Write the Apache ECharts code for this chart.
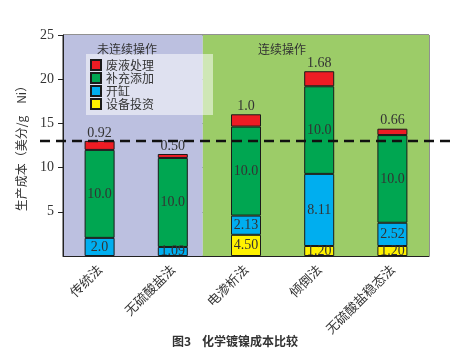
<!DOCTYPE html>
<html>
<head>
<meta charset="utf-8">
<script src="https://cdn.jsdelivr.net/npm/echarts@6/dist/echarts.min.js"></script>
<style>html,body{margin:0;padding:0;background:#fff;}#c{width:470px;height:362px;}</style>
</head>
<body>
<div id="c"></div>
<script>
// categories
const categories = ['传统法', '无硫酸盐法', '电渗析法', '倾倒法', '无硫酸盐稳态法'];
const equipment = [0, 0, 2.4, 1.13, 1.13];      // 设备投资
const makeup = [2.05, 1.02, 2.17, 8.16, 2.63];   // 开缸
const replenish = [9.95, 10.07, 10.07, 9.91, 9.92]; // 补充添加
const waste = [1.02, 0.45, 1.39, 1.7, 0.72];     // 废液处理
// printed labels
const equipmentLabels = ['', '', '4.50', '1.20', '1.20'];
const makeupLabels = ['2.0', '1.09', '2.13', '8.11', '2.52'];
const replenishLabels = ['10.0', '10.0', '10.0', '10.0', '10.0'];
const wasteLabels = ['0.92', '0.50', '1.0', '1.68', '0.66'];
// reference (dashed) level
const refLevel = 13;
// axis
const yTicks = [0, 5, 10, 15, 20, 25];
const regionSplit = 1.91; // boundary between regions, in category units
const regionTitles = ['未连续操作', '连续操作'];
const caption = '图3    化学镀镍成本比较';

const serif = '"Liberation Serif", "DejaVu Serif", serif';
const cjk = '"Noto Sans CJK SC", sans-serif';

const chart = echarts.init(document.getElementById('c'), null, {renderer: 'canvas'});

function mk(name, values, labels, color, pos) {
  return {
    name: name, type: 'bar', stack: 'total', barWidth: 30, z: 2,
    xAxisIndex: 0, yAxisIndex: 0,
    data: values.map(v => v === 0 ? '-' : v),
    itemStyle: {color: color, borderColor: '#1a1a1a', borderWidth: 1},
    label: {
      show: true, position: pos, distance: 1,
      formatter: p => labels[p.dataIndex],
      fontFamily: serif, fontSize: 14, color: '#333'
    },
    emphasis: {disabled: true}
  };
}

const option = {
  animation: false,
  backgroundColor: '#fff',
  grid: {left: 63, right: 41, top: 35, bottom: 106, show: true, borderColor: '#222', borderWidth: 1, backgroundColor: 'transparent'},
  legend: {
    data: ['废液处理', '补充添加', '开缸', '设备投资'],
    orient: 'vertical', left: 86, top: 54,
    padding: [5, 59, 5, 4],
    backgroundColor: 'rgba(255,255,255,0.52)',
    itemWidth: 10, itemHeight: 10, itemGap: 1,
    icon: 'rect',
    textStyle: {fontFamily: cjk, fontSize: 12, color: '#333', lineHeight: 12},
    selectedMode: false, z: 5
  },
  xAxis: [{
    type: 'category', data: categories,
    axisLine: {show: true, lineStyle: {color: '#222', width: 1}},
    axisTick: {show: false},
    axisLabel: {rotate: 45, margin: 11, fontFamily: cjk, fontSize: 13, color: '#333', interval: 0}
  }, {
    type: 'value', min: 0, max: 5, show: false
  }],
  yAxis: {
    type: 'value', min: yTicks[0], max: yTicks[yTicks.length - 1], interval: 5, z: 1,
    name: '生产成本（美分/g\u3000Ni）', nameLocation: 'middle', nameGap: 36,
    nameTextStyle: {fontFamily: cjk, fontSize: 12, color: '#333'},
    axisLine: {show: true, lineStyle: {color: '#222', width: 1}},
    axisTick: {show: true, inside: false, length: 5, lineStyle: {color: '#222'}},
    axisLabel: {showMinLabel: false, fontFamily: serif, fontSize: 14, color: '#333', margin: 9},
    splitLine: {show: true, lineStyle: {color: '#222', width: 1}}
  },
  series: [
    {
      type: 'line', xAxisIndex: 1, yAxisIndex: 0, z: 0, data: [],
      silent: true, showSymbol: false,
      markArea: {
        silent: true,
        data: [
          [{xAxis: 0, yAxis: yTicks[0], itemStyle: {color: '#bcc0e0'},
            label: {show: true, position: 'insideTop', offset: [-6, 3], formatter: regionTitles[0], fontFamily: cjk, fontSize: 12, color: '#333'}},
           {xAxis: regionSplit, yAxis: yTicks[yTicks.length - 1]}],
          [{xAxis: regionSplit, yAxis: yTicks[0], itemStyle: {color: '#9ccc68'},
            label: {show: true, position: 'insideTop', offset: [-34, 3], formatter: regionTitles[1], fontFamily: cjk, fontSize: 12, color: '#333'}},
           {xAxis: 5, yAxis: yTicks[yTicks.length - 1]}]
        ]
      }
    },
    mk('设备投资', equipment, equipmentLabels, '#fff200', 'inside'),
    mk('开缸', makeup, makeupLabels, '#00aeef', 'inside'),
    mk('补充添加', replenish, replenishLabels, '#00a651', 'inside'),
    mk('废液处理', waste, wasteLabels, '#ed1c24', 'top')
  ]
};
chart.setOption(option);

const yRef = chart.convertToPixel({yAxisIndex: 0}, refLevel);
chart.setOption({
  graphic: [
    {type: 'line', z: 10, shape: {x1: 40, y1: yRef, x2: 456, y2: yRef},
     style: {stroke: '#111', lineWidth: 2.5, lineDash: [10, 6]}},
    {type: 'text', left: 'center', top: 335, z: 10,
     style: {text: caption, font: 'bold 12px "Noto Sans CJK SC", sans-serif', fill: '#333'}}
  ]
});
</script>
</body>
</html>
